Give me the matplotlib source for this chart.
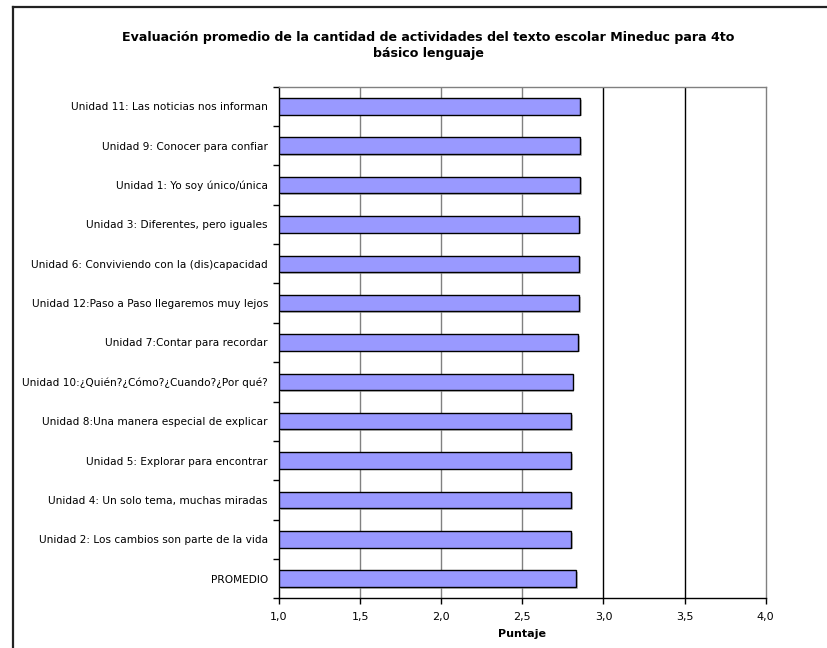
import matplotlib
matplotlib.use("Agg")
import matplotlib.pyplot as plt
import matplotlib.patheffects as pe
from matplotlib.lines import Line2D
from matplotlib.ticker import FixedLocator, FuncFormatter

categories = [
    "Unidad 11: Las noticias nos informan",
    "Unidad 9: Conocer para confiar",
    "Unidad 1: Yo soy único/única",
    "Unidad 3: Diferentes, pero iguales",
    "Unidad 6: Conviviendo con la (dis)capacidad",
    "Unidad 12:Paso a Paso llegaremos muy lejos",
    "Unidad 7:Contar para recordar",
    "Unidad 10:¿Quién?¿Cómo?¿Cuando?¿Por qué?",
    "Unidad 8:Una manera especial de explicar",
    "Unidad 5: Explorar para encontrar",
    "Unidad 4: Un solo tema, muchas miradas",
    "Unidad 2: Los cambios son parte de la vida",
    "PROMEDIO",
]
values = [2.858, 2.858, 2.858, 2.85, 2.85, 2.85, 2.846, 2.81, 2.80, 2.80, 2.80, 2.80, 2.83]
xticks = [1.0, 1.5, 2.0, 2.5, 3.0, 3.5, 4.0]

title = "Evaluación promedio de la cantidad de actividades del texto escolar Mineduc para 4to\nbásico lenguaje"
xlabel = "Puntaje"

plt.rcParams['font.family'] = ['DejaVu Sans']

fig = plt.figure(figsize=(8.27, 6.48), dpi=100)
W, H = 827, 648

# outer chart frame (left and top visible)
fig.add_artist(Line2D([13 / W, 13 / W], [0, 1 - 6.5 / H], transform=fig.transFigure,
                      color="#222222", lw=1.6))
fig.add_artist(Line2D([13 / W, 1], [1 - 6.5 / H, 1 - 6.5 / H], transform=fig.transFigure,
                      color="#222222", lw=1.6))

left, right = 279 / W, 765.7 / W
top, bottom = 1 - 86.7 / H, 1 - 598.3 / H
ax = fig.add_axes([left, bottom, right - left, top - bottom])

n = len(categories)
ypos = list(range(n))
bars = ax.barh(ypos, [v - 1.0 for v in values], left=1.0, height=0.42,
               color="#9999FF", edgecolor="#000000", linewidth=1.0, zorder=3)
for b in bars:
    b.set_path_effects([pe.SimplePatchShadow(offset=(1.2, -1.2), shadow_rgbFace="#999999", alpha=0.6),
                        pe.Normal()])

ax.set_xlim(1.0, 4.0)
ax.set_ylim(n - 0.5, -0.5)

# gridlines
grid_colors = {1.5: "#808080", 2.0: "#808080", 2.5: "#808080", 3.0: "#000000", 3.5: "#000000"}
for x, c in grid_colors.items():
    ax.axvline(x, color=c, lw=1.0, zorder=1)

ax.set_xticks(xticks)
ax.xaxis.set_major_formatter(FuncFormatter(lambda v, p: f"{v:.1f}".replace(".", ",")))
ax.tick_params(axis="x", direction="out", length=4, width=1, color="black",
               labelsize=8, pad=6)

ax.set_yticks(ypos)
ax.set_yticklabels(categories, fontsize=7.6)
ax.yaxis.set_minor_locator(FixedLocator([i - 0.5 for i in range(n + 1)]))
ax.tick_params(axis="y", which="major", length=0, pad=8)
ax.tick_params(axis="y", which="minor", direction="out", length=4, width=1, color="black")

for s in ["left", "bottom"]:
    ax.spines[s].set_color("black")
    ax.spines[s].set_linewidth(1.0)
for s in ["top", "right"]:
    ax.spines[s].set_color("#808080")
    ax.spines[s].set_linewidth(1.0)

ax.set_xlabel(xlabel, fontsize=8, fontweight="bold", labelpad=5)

fig.text(428 / W, 1 - 45.5 / H, title, ha="center", va="center", fontsize=9.1,
         fontweight="bold", linespacing=1.3)

fig.savefig("out.png", dpi=100)
